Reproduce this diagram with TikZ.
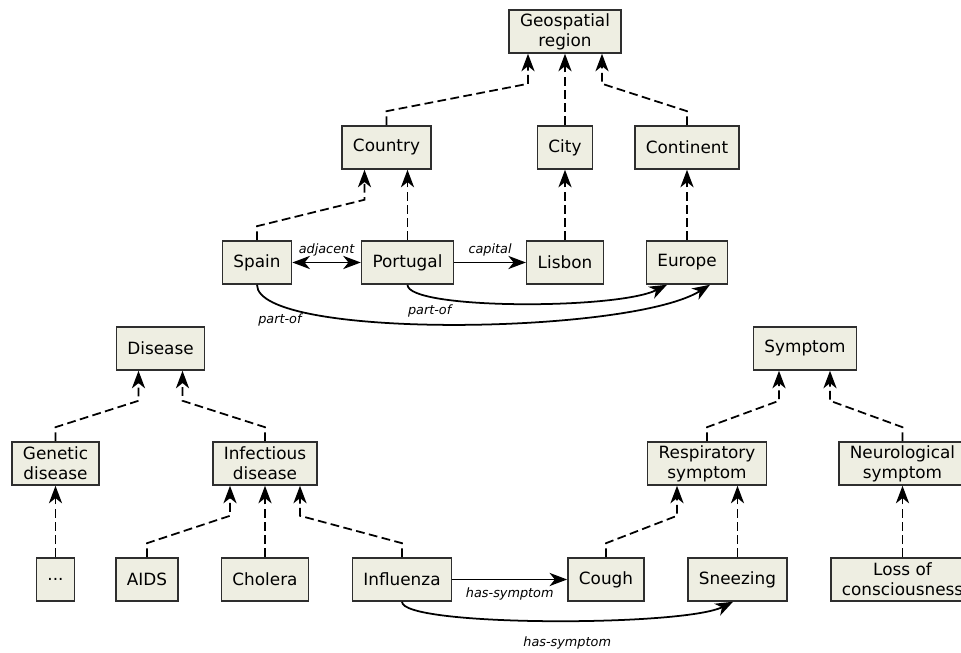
\documentclass[tikz,border=0pt]{standalone}
\usepackage{fontspec}
\setmainfont{DejaVu Sans}
\usepackage{tikz}
\usetikzlibrary{arrows.meta}
\definecolor{boxfill}{HTML}{EEEEE2}
\definecolor{boxline}{HTML}{2E2E2E}
\tikzset{
  concept/.style={draw=boxline, fill=boxfill, line width=0.9pt, minimum height=0.86cm,
    inner xsep=0.22cm, inner ysep=1pt, align=center, font=\fontsize{9.6}{11.3}\selectfont},
  isa/.style={line width=1pt, dash pattern=on 5pt off 2.5pt, ->},
  rel/.style={line width=1pt, ->},
  lbl/.style={font=\fontsize{7.3}{8.6}\selectfont\itshape, inner sep=1pt}
}

\begin{document}
\begin{tikzpicture}[>={Stealth[length=10pt,width=7.5pt,inset=3pt]}]
        \useasboundingbox (0cm,0cm) rectangle (19.22cm,13.06cm);
        % places
        \node[concept] (geo) at (11.3cm,12.43cm) {Geospatial\\region};
        \node[concept] (country) at (7.73cm,10.11cm) {Country};
        \node[concept] (city) at (11.3cm,10.11cm) {City};
        \node[concept] (continent) at (13.74cm,10.11cm) {Continent};
        \node[concept] (spain) at (5.14cm,7.81cm) {Spain};
        \node[concept] (portugal) at (8.15cm,7.81cm) {Portugal};
        \node[concept] (lisbon) at (11.3cm,7.81cm) {Lisbon};
        \node[concept] (europe) at (13.74cm,7.81cm) {Europe};

        \draw[isa] (country.north) -- ++(0,0.28) -- ([xshift=-0.74cm,yshift=-0.6cm]geo.south) -- ++(0,0.6);
        \draw[isa] (city) -- (geo);
        \draw[isa] (continent.north) -- ++(0,0.28) -- ([xshift=0.74cm,yshift=-0.6cm]geo.south) -- ++(0,0.6);
        \draw[isa] (spain.north) -- ++(0,0.28) -- ([xshift=-0.44cm,yshift=-0.6cm]country.south) -- ++(0,0.6);
        \draw[isa] (portugal.north) -- (portugal.north |- country.south);
        \draw[isa] (lisbon) -- (city);
        \draw[isa] (europe) -- (continent);

        \draw[rel,<->] (spain) -- node[lbl,above=2pt] {adjacent} (portugal);
        \draw[rel] (portugal) -- node[lbl,above=2pt] {capital} (lisbon);
        \draw[rel] (portugal.south) .. controls +(0,-0.5) and +(-1,-0.5) .. ([xshift=-0.4cm]europe.south)
          node[lbl,pos=0.2,below=3pt] {part-of};
        \draw[rel] (spain.south) .. controls +(0,-1.1) and +(-1.6,-1) .. ([xshift=0.46cm]europe.south)
          node[lbl,pos=0.15,below=3pt] {part-of};

        % diseases
        \node[concept] (disease) at (3.21cm,6.09cm) {Disease};
        \node[concept] (genetic) at (1.11cm,3.79cm) {Genetic\\disease};
        \node[concept] (infectious) at (5.3cm,3.79cm) {Infectious\\disease};
        \node[concept] (dots) at (1.11cm,1.47cm) {...};
        \node[concept] (aids) at (2.94cm,1.47cm) {AIDS};
        \node[concept] (cholera) at (5.3cm,1.47cm) {Cholera};
        \node[concept] (influenza) at (8.04cm,1.47cm) {Influenza};

        \draw[isa] (genetic.north) -- ++(0,0.28) -- ([xshift=-0.44cm,yshift=-0.6cm]disease.south) -- ++(0,0.6);
        \draw[isa] (infectious.north) -- ++(0,0.28) -- ([xshift=0.44cm,yshift=-0.6cm]disease.south) -- ++(0,0.6);
        \draw[isa] (dots) -- (genetic);
        \draw[isa] (aids.north) -- ++(0,0.28) -- ([xshift=-0.7cm,yshift=-0.6cm]infectious.south) -- ++(0,0.6);
        \draw[isa] (cholera) -- (infectious);
        \draw[isa] (influenza.north) -- ++(0,0.28) -- ([xshift=0.7cm,yshift=-0.6cm]infectious.south) -- ++(0,0.6);

        % symptoms
        \node[concept] (symptom) at (16.1cm,6.09cm) {Symptom};
        \node[concept] (resp) at (14.14cm,3.79cm) {Respiratory\\symptom};
        \node[concept] (neuro) at (18.05cm,3.79cm) {Neurological\\symptom};
        \node[concept] (cough) at (12.12cm,1.47cm) {Cough};
        \node[concept] (sneezing) at (14.75cm,1.47cm) {Sneezing};
        \node[concept] (loss) at (18.05cm,1.47cm) {Loss of\\consciousness};

        \draw[isa] (resp.north) -- ++(0,0.28) -- ([xshift=-0.52cm,yshift=-0.6cm]symptom.south) -- ++(0,0.6);
        \draw[isa] (neuro.north) -- ++(0,0.28) -- ([xshift=0.5cm,yshift=-0.6cm]symptom.south) -- ++(0,0.6);
        \draw[isa] (cough.north) -- ++(0,0.28) -- ([xshift=-0.6cm,yshift=-0.6cm]resp.south) -- ++(0,0.6);
        \draw[isa] (sneezing.north) -- (sneezing.north |- resp.south);
        \draw[isa] (loss) -- (neuro);

        \draw[rel] (influenza) -- node[lbl,below=3pt] {has-symptom} (cough);
        \draw[rel] (influenza.south) .. controls +(0,-0.5) and +(-1,-0.5) .. ([xshift=-0.09cm]sneezing.south)
          node[lbl,pos=0.54,below=8pt] {has-symptom};
      \end{tikzpicture}
\end{document}
